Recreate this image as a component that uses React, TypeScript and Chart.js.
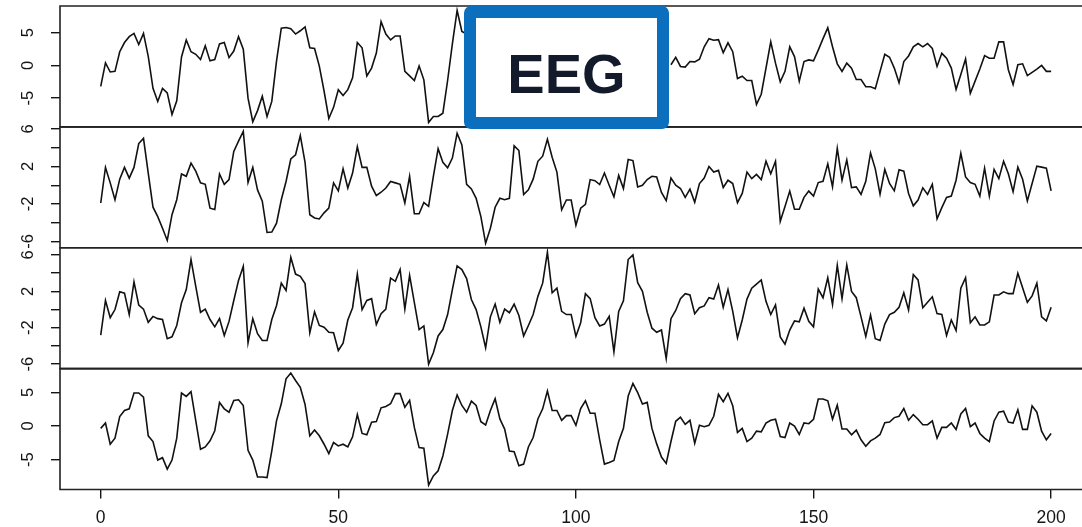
import React, { useEffect, useRef } from 'react';
import { Chart, registerables } from 'chart.js';

Chart.register(...registerables);

// ---- data ----
// sample positions 0..200 along the shared time axis
const SAMPLE_COUNT = 201;

// channel 1: samples 78..119 are hidden behind the "EEG" label box in the reference
const channel1Start: number[] = [
  -3.2, 0.4, -1.0, -0.9, 2.1, 3.5, 4.4, 4.9, 3.2, 4.9,
  1.4, -3.5, -5.5, -3.5, -4.2, -7.5, -5.4, 1.3, 3.9, 2.1,
  1.7, 0.9, 3.0, 0.7, 0.9, 3.3, 3.5, 1.2, 2.2, 4.4,
  2.5, -5.0, -8.6, -6.9, -4.7, -7.8, -5.5, 0.7, 5.7, 5.8,
  5.6, 4.8, 5.3, 5.9, 2.7, 2.6, -0.1, -3.9, -8.1, -6.4,
  -3.7, -4.6, -3.7, -1.9, 3.5, 2.7, -1.6, -0.4, 1.9, 6.7,
  4.8, 3.9, 4.5, 4.5, -0.9, -1.6, -2.3, -0.1, -2.2, -8.7,
  -7.8, -7.8, -7.3, -2.3, 3.3, 8.4, 5.2, 4.8,
];
const channel1HiddenCount = 42;
const channel1End: number[] = [
  0.1, 1.25, -0.15, -0.25, 0.6, 0.55, 0.95, 2.85, 4.1, 3.85,
  3.95, 1.95, 3.45, 2.1, -2.0, -1.65, -2.3, -2.3, -5.95, -4.4,
  -0.4, 3.6, 0.35, -2.5, -0.9, 2.85, 1.35, -2.4, 0.6, 0.85,
  0.7, 2.35, 4.1, 5.75, 2.85, 0.25, -0.9, 0.35, -0.4, -2.15,
  -2.15, -3.25, -3.25, -3.55, -0.9, 1.7, 1.25, -0.4, -2.65, 0.6,
  1.45, 2.85, 3.35, 2.85, 3.35, 2.6, -0.15, 1.85, 1.1, -0.4,
  -3.65, -1.4, 1.0, -4.25, -2.4, -0.55, 1.5, 1.1, 1.1, 3.6,
  3.6, -0.65, -2.9, 0.1, 0.25, -1.55, -1.05, -0.55, 0, -0.9,
  -0.9,
];

const channel2: number[] = [
  -1.9, 1.9, 0.25, -1.55, 0.65, 1.9, 0.75, 1.9, 4.45, 5.0,
  1.3, -2.35, -3.35, -4.6, -5.9, -3.15, -1.55, 1.2, 0.95, 2.35,
  1.5, 0.25, 0.1, -2.45, -2.6, 1.2, 0.1, 0.6, 3.6, 4.7,
  5.75, 0.3, 1.9, -0.5, -1.7, -5.05, -5.0, -4.05, -1.55, 0.4,
  2.8, 3.25, 5.3, 2.45, -3.15, -3.5, -3.6, -2.95, -2.45, 0.25,
  -0.6, 1.75, -0.3, 1.3, 4.1, 1.9, 1.9, -0.1, -1.1, -0.75,
  -0.3, 0.4, 0.25, 0.1, -1.9, 0.95, -3.05, -3.05, -1.85, -2.25,
  0.95, 3.9, 2.45, 1.85, 2.9, 5.55, 4.3, 0.1, -0.4, -1.4,
  -3.35, -6.2, -4.6, -2.35, -1.4, -1.55, -1.4, 4.2, 3.7, -1.0,
  -0.5, 0.65, 2.55, 3.1, 4.9, 2.98, 1.4, -2.63, -1.58, -1.58,
  -4.28, -2.46, -2.04, 0.6, 0.49, 0.07, 1.3, 0, -1.23, 1.05,
  -0.35, 2.74, 2.63, -0.18, 0, 0.6, 0.95, 0.88, -0.77, -1.65,
  0.77, 0, -0.35, -1.3, -0.42, -1.82, 0.18, 0.77, 2.0, 1.4,
  1.58, -0.25, 0.53, 0.18, -1.86, -0.88, 1.4, 0.7, 1.16, 0.6,
  2.56, 1.23, 2.56, -3.86, -2.28, -0.63, -2.56, -2.56, -1.3, -0.63,
  -1.16, 0.28, 0.42, 2.28, -0.18, 3.93, 0.53, 2.7, -0.25, -0.18,
  -0.98, 0.42, 3.44, 1.75, -0.95, 1.68, 0.18, -0.6, 1.65, 1.5,
  -0.88, -2.2, -1.58, -0.28, -0.98, 0.1, -3.58, -2.39, -1.3, -1.16,
  0.53, 3.4, 0.88, 0.28, 0.1, -1.16, 1.82, -1.16, 1.68, 0.7,
  2.56, 1.23, -0.7, 1.93, 0.63, -1.68, 0.18, 2.04, 1.93, 1.82,
  -0.6,
];

const channel3: number[] = [
  -2.8, 1.0, -0.9, 0, 1.95, 1.8, -0.55, 3.05, 0.5, 0.05,
  -1.4, -0.75, -1.0, -1.1, -3.2, -3.0, -1.75, 0.75, 2.2, 5.5,
  2.55, -0.3, 0.05, -1.1, -1.9, -1.0, -2.85, -1.3, 1.0, 3.2,
  4.75, -3.65, -1.0, -2.65, -3.4, -3.4, -1.1, 0.45, 2.9, 2.1,
  5.75, 3.9, 3.65, 2.85, -2.55, -0.25, -1.75, -1.95, -2.5, -2.55,
  -4.5, -3.7, -1.15, 0.2, 3.9, 0, 1.0, 1.2, -1.65, -0.45,
  0.05, 3.45, 3.1, 4.4, 0.05, 3.75, 0.75, -2.2, -1.8, -6.0,
  -4.75, -2.9, -2.2, -0.55, 2.2, 4.8, 4.4, 3.4, 1.1, 0,
  -1.9, -4.2, -0.8, 0.6, -1.4, 0.05, -0.35, 0.6, -0.65, -2.9,
  -1.75, -0.55, 1.45, 2.9, 6.3, 1.85, 2.35, -0.2, -0.55, -0.55,
  -2.95, -1.45, 1.75, 1.2, -0.9, -1.8, -1.6, -0.75, -4.65, -0.2,
  0.95, 5.5, 6.0, 2.95, 2.0, -0.3, -2.05, -2.5, -2.25, -5.4,
  -1.0, -0.1, 1.2, 1.75, 1.6, -0.45, 0.2, 0.4, 1.3, 1.15,
  2.7, 0.25, 2.2, -0.2, -3.1, -1.15, 1.15, 2.35, 2.8, 3.25,
  0.9, -0.55, 0.5, -3.0, -3.8, -2.25, -1.25, -1.35, 0.15, -1.3,
  -1.9, 2.25, 1.3, 3.5, 0.55, 4.85, 1.2, 4.9, 2.0, 1.3,
  -0.8, -2.95, -0.6, -3.2, -3.4, -1.6, -0.55, -0.3, 0.25, 1.85,
  -0.05, 3.85, 3.25, 0.2, 0.8, 1.4, -0.45, -0.55, -2.85, -1.15,
  -2.3, 2.35, 3.5, -1.45, -0.8, -1.7, -1.7, -1.35, 1.6, 1.6,
  1.95, 1.75, 1.75, 4.0, 2.4, 0.8, 1.5, 2.9, -0.8, -1.25,
  0.25,
];

const channel4: number[] = [
  -0.35, 0.45, -2.7, -1.8, 1.4, 2.3, 2.55, 4.9, 4.9, 4.3,
  -1.45, -2.3, -5.05, -4.7, -6.4, -5.05, -1.8, 4.9, 4.4, 5.1,
  0.8, -3.45, -3.1, -2.2, -0.7, 3.5, 2.55, 2.05, 3.8, 3.9,
  3.05, -3.6, -5.05, -7.55, -7.55, -7.65, -3.7, 0.8, 3.3, 7.0,
  7.85, 6.75, 5.75, 3.2, -1.45, -0.6, -1.45, -2.7, -4.1, -2.45,
  -2.95, -2.7, -3.1, -1.6, 1.7, -1.1, -1.3, 0.55, 0.65, 2.7,
  2.9, 3.3, 4.8, 4.8, 2.8, 3.8, -0.2, -3.2, -3.3, -8.75,
  -7.4, -6.65, -4.45, -1.2, 2.3, 4.6, 3.05, 2.05, 3.7, 3.05,
  0.65, 0.15, 2.3, 4.05, 1.05, -0.45, -3.7, -3.8, -5.9, -5.65,
  -3.1, -1.7, 1.05, 2.55, 5.2, 2.3, 2.3, 0.85, 1.55, 1.55,
  0.1, 2.6, 3.75, 1.9, 1.9, -2.05, -5.65, -5.4, -5.1, -2.3,
  -0.35, 4.45, 6.3, 4.95, 3.25, 3.5, -0.35, -2.65, -4.6, -5.55,
  -2.3, 0.7, 1.3, 0.25, 0.85, -2.55, 0.1, -0.1, 0.1, 1.45,
  4.7, 3.6, 4.85, 3.0, -0.95, -0.35, -2.3, -1.8, -0.75, -0.85,
  0.45, 0.85, 1.0, -1.55, -1.7, 0.45, 0, -1.25, 0.45, 0.35,
  1.0, 4.0, 4.0, 3.75, 1.0, 3.1, -0.45, -0.45, -1.3, -0.6,
  -2.05, -3.0, -2.2, -1.8, -1.25, 0.5, 0.6, 1.25, 1.45, 2.6,
  0.85, 1.7, 1.0, 0.2, 0.2, 0.75, -1.8, -0.2, -0.2, 0.45,
  -0.5, 1.8, 2.6, -0.1, 0.45, -1.1, -1.8, -2.3, 0.75, 2.05,
  2.2, 0.6, 0.45, 2.4, -0.5, -0.5, 3.0, 2.05, -0.75, -2.05,
  -1.1,
];

// tick values and labels
const xTicks: number[] = [0, 50, 100, 150, 200];
const ticksFive: number[] = [-5, 0, 5];
const ticksFiveLabels: number[] = [-5, 0, 5];
const ticksTwo: number[] = [-6, -4, -2, 0, 2, 4, 6];
const ticksTwoLabels: number[] = [-6, -2, 2, 6];

const labelText = 'EEG';

// ---- helpers ----
const channel1: (number | null)[] = [
  ...channel1Start,
  ...new Array(channel1HiddenCount).fill(null),
  ...channel1End,
];

function toPoints(values: (number | null)[]) {
  return values.slice(0, SAMPLE_COUNT).map((v, i) => ({ x: i, y: v }));
}

// R-style axis range: data range extended by 4% on each side
function rRange(values: (number | null)[]) {
  const nums = values.filter((v) => v !== null) as number[];
  const lo = Math.min(...nums);
  const hi = Math.max(...nums);
  const pad = (hi - lo) * 0.04;
  return { min: lo - pad, max: hi + pad };
}

const FONT = '"Liberation Sans", Arial, Helvetica, sans-serif';
const INK = '#151515';

function yScale(weight: number, values: (number | null)[], ticks: number[], labeled: number[]) {
  const r = rRange(values);
  return {
    type: 'linear' as const,
    position: 'left' as const,
    stack: 'eeg',
    stackWeight: 1,
    weight,
    min: r.min,
    max: r.max,
    afterBuildTicks: (s: any) => {
      s.ticks = ticks.map((v) => ({ value: v }));
    },
    afterFit: (s: any) => {
      s.width = 60;
      s.paddingTop = 0;
      s.paddingBottom = 0;
    },
    grid: {
      display: true,
      drawOnChartArea: false,
      drawTicks: true,
      tickLength: 9,
      color: INK,
      lineWidth: 1.4,
    },
    border: { display: false },
    ticks: {
      autoSkip: false,
      minRotation: 90,
      maxRotation: 90,
      crossAlign: 'center' as const,
      padding: 15,
      color: INK,
      font: { family: FONT, size: 16.5 },
      callback: (v: any) => (labeled.includes(Number(v)) ? String(v) : ''),
    },
  };
}

const framePlugin = {
  id: 'panelFrames',
  afterDatasetsDraw(chart: any) {
    const { ctx, chartArea } = chart;
    ctx.save();
    ctx.strokeStyle = '#222';
    ctx.lineWidth = 1.6;
    ['y1', 'y2', 'y3', 'y4'].forEach((id) => {
      const s = chart.scales[id];
      ctx.beginPath();
      ctx.moveTo(chartArea.right + 5, s.top);
      ctx.lineTo(chartArea.left, s.top);
      ctx.lineTo(chartArea.left, s.bottom);
      ctx.lineTo(chartArea.right + 5, s.bottom);
      ctx.stroke();
    });
    ctx.restore();
  },
};

export default function App() {
  const ref = useRef<HTMLCanvasElement>(null);

  useEffect(() => {
    if (!ref.current) return;
    const lineStyle = {
      borderColor: '#111',
      borderWidth: 1.6,
      pointRadius: 0,
      tension: 0,
      spanGaps: false,
      fill: false,
    };
    const chart = new Chart(ref.current, {
      type: 'line',
      data: {
        datasets: [
          { ...lineStyle, label: 'ch1', data: toPoints(channel1), xAxisID: 'x', yAxisID: 'y1' },
          { ...lineStyle, label: 'ch2', data: toPoints(channel2), xAxisID: 'x', yAxisID: 'y2' },
          { ...lineStyle, label: 'ch3', data: toPoints(channel3), xAxisID: 'x', yAxisID: 'y3' },
          { ...lineStyle, label: 'ch4', data: toPoints(channel4), xAxisID: 'x', yAxisID: 'y4' },
        ] as any,
      },
      options: {
        responsive: false,
        animation: false,
        devicePixelRatio: 1,
        layout: { padding: { top: 6, left: 0, right: 0, bottom: 0 } },
        plugins: {
          legend: { display: false },
          tooltip: { enabled: false },
        },
        scales: {
          x: {
            type: 'linear',
            position: 'bottom',
            min: -8.57,
            max: 206.5,
            afterBuildTicks: (s: any) => {
              s.ticks = xTicks.map((v) => ({ value: v }));
            },
            afterFit: (s: any) => {
              s.height = 37.5;
              s.paddingLeft = 0;
              s.paddingRight = 0;
            },
            grid: {
              display: true,
              drawOnChartArea: false,
              drawTicks: true,
              tickLength: 9,
              color: INK,
              lineWidth: 1.4,
            },
            border: { display: false },
            ticks: {
              autoSkip: false,
              maxRotation: 0,
              padding: 9.5,
              color: INK,
              font: { family: FONT, size: 17.5 },
              callback: (v: any) => String(v),
            },
          },
          y1: yScale(4, channel1, ticksFive, ticksFiveLabels),
          y2: yScale(3, channel2, ticksTwo, ticksTwoLabels),
          y3: yScale(2, channel3, ticksTwo, ticksTwoLabels),
          y4: yScale(1, channel4, ticksFive, ticksFiveLabels),
        } as any,
      },
      plugins: [framePlugin],
    });
    return () => chart.destroy();
  }, []);

  return (
    <div style={{ position: 'fixed', left: 0, top: 0, width: 1082, height: 527, background: '#fff', overflow: 'hidden' }}>
      <canvas ref={ref} width={1082} height={527} style={{ display: 'block', width: 1082, height: 527 }} />
      <div
        style={{
          position: 'absolute',
          left: 464,
          top: 6,
          width: 205,
          height: 123,
          boxSizing: 'border-box',
          border: '12px solid #0b6fbe',
          borderRadius: 7,
          background: '#fff',
          display: 'flex',
          alignItems: 'center',
          justifyContent: 'center',
          paddingTop: 12,
          fontFamily: FONT,
          fontWeight: 700,
          fontSize: 56,
          lineHeight: 1,
          color: '#131a2c',
        }}
      >
        {labelText}
      </div>
    </div>
  );
}
